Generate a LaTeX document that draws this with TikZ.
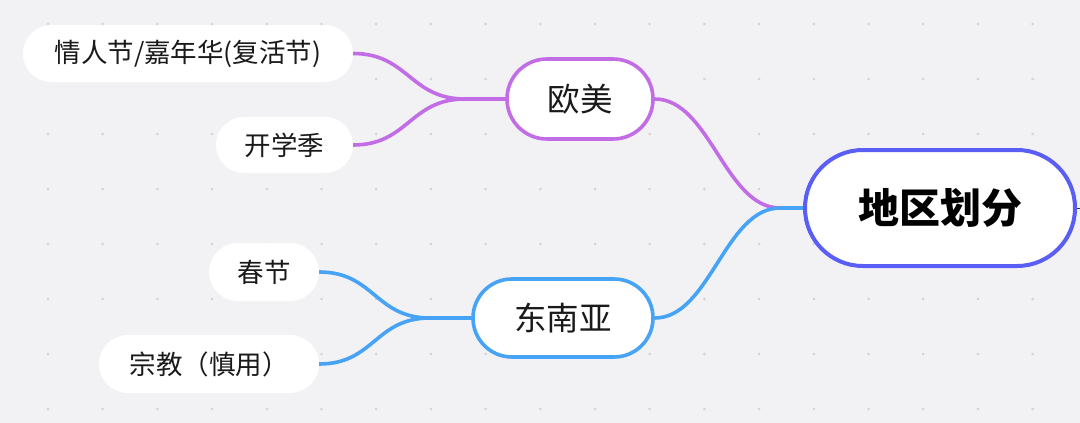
\documentclass[tikz,border=0pt]{standalone}
\usepackage{fontspec}
\usetikzlibrary{backgrounds}
\newfontfamily\cjk{Noto Sans CJK SC}
\definecolor{bgc}{HTML}{F2F2F5}
\definecolor{dotc}{HTML}{D4D4D8}
\definecolor{purp}{HTML}{C26CE6}
\definecolor{bluec}{HTML}{46A3F5}
\definecolor{rootc}{HTML}{5A5EF5}
\definecolor{txt}{HTML}{1A1A1A}
\begin{document}
\begin{tikzpicture}[x=1pt,y=-1pt,
  leaf/.style={fill=white,inner sep=0pt,rounded corners=27.9pt,minimum height=56pt,text=txt,font=\cjk\fontsize{26.5}{30}\selectfont},
  mid/.style={fill=white,draw,line width=3.6pt,inner sep=0pt,rounded corners=38.9pt,minimum height=78pt,text=txt,font=\cjk\fontsize{32.5}{36}\selectfont},
  rootbox/.style={fill=white,draw=rootc,line width=4pt,inner sep=0pt,rounded corners=57.9pt,minimum height=116pt,minimum width=270pt,text=black,font=\cjk\bfseries\fontsize{41}{46}\selectfont},
  conn/.style={line width=3.6pt,line cap=round}
]
\useasboundingbox (0,0) rectangle (1080,423);
% nodes
\node[rootbox] (root) at (940,208) {地区划分};
\node[mid,draw=purp,minimum width=146pt,minimum height=80pt,rounded corners=39.9pt] (om) at (580,99) {欧美};
\node[mid,draw=bluec,minimum width=180pt] (dn) at (563,318) {东南亚};
\node[leaf,minimum width=330pt,minimum height=57pt,rounded corners=28.4pt] (l1) at (188,53.5) {情人节/嘉年华(复活节)};
\node[leaf,minimum width=137pt] (l2) at (284.5,145) {开学季};
\node[leaf,minimum width=110pt,minimum height=58pt,rounded corners=28.9pt] (l3) at (264,272) {春节};
\node[leaf,minimum width=220pt,minimum height=58pt,rounded corners=28.9pt] (l4) at (209,364) {宗教（慎用）};
% junctions
\coordinate (jo) at (465,99);
\coordinate (jd) at (430,318);
\coordinate (jr) at (780,208);
\coordinate (edge) at (1086,208);
\begin{pgfonlayer}{background}
\fill[bgc] (0,0) rectangle (1080,423);
\foreach \i in {0,...,18}{
  \foreach \j in {0,...,7}{
    \fill[dotc] ({48+54.7*\i},{24+55*\j}) circle (1.5pt);
  }
}
\draw[conn,purp] (l1.east) .. controls +(55,0) and +(-55,0) .. (jo) -- (om.west);
\draw[conn,purp] (l2.east) .. controls +(55,0) and +(-55,0) .. (jo) -- (om.west);
\draw[conn,bluec] (l3.east) .. controls +(55,0) and +(-55,0) .. (jd) -- (dn.west);
\draw[conn,bluec] (l4.east) .. controls +(55,0) and +(-55,0) .. (jd) -- (dn.west);
\draw[conn,purp] (om.east) .. controls +(55,0) and +(-55,0) .. (jr) -- (root.west);
\draw[conn,bluec] (dn.east) .. controls +(55,0) and +(-55,0) .. (jr) -- (root.west);
\draw[line width=1pt,black!80] (root.east) -- (edge);
\end{pgfonlayer}
\end{tikzpicture}
\end{document}
